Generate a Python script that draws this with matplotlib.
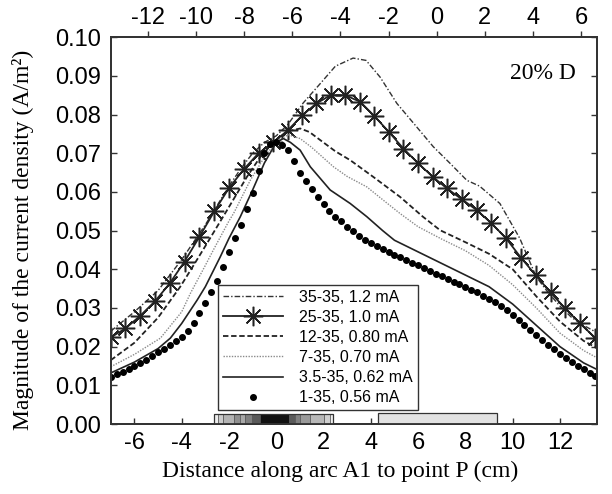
import matplotlib
matplotlib.use("Agg")
import matplotlib.pyplot as plt
from matplotlib.patches import Rectangle

plt.rcParams["axes.unicode_minus"] = False

# ---- data ----
# 35-35, 1.2 mA (dash-dot)
x_35 = [-7.0, -6.0, -5.0, -4.0, -3.0, -2.0, -1.5, -1.0, -0.5, 0.0, 0.5, 1.14, 1.86, 2.5,
        3.25, 3.8, 4.39, 5.1, 5.94, 6.64, 7.35, 8.06, 8.6, 9.46, 10.3, 11.0, 11.5, 12.0,
        12.5, 13.0, 13.6]
y_35 = [0.0240, 0.0290, 0.0345, 0.0425, 0.0515, 0.0615, 0.0660, 0.0700, 0.0728, 0.0745,
        0.0775, 0.0830, 0.0880, 0.0925, 0.0946, 0.0940, 0.0897, 0.0829, 0.0768, 0.0717,
        0.0674, 0.0630, 0.0615, 0.0570, 0.0480, 0.0380, 0.0340, 0.0305, 0.0275, 0.0255,
        0.0235]

# 25-35, 1.0 mA (line with asterisks)
x_25 = [-7.0, -6.38, -5.75, -5.12, -4.5, -3.88, -3.25, -2.62, -2.0, -1.38, -0.75, -0.12,
        0.5, 1.1, 1.7, 2.3, 2.92, 3.55, 4.15, 4.75, 5.38, 6.0, 6.62, 7.22, 7.85, 8.48,
        9.1, 9.72, 10.35, 10.97, 11.6, 12.2, 12.85, 13.5]
y_25 = [0.0224, 0.0247, 0.0280, 0.0318, 0.0364, 0.0420, 0.0484, 0.0550, 0.0610, 0.0658,
        0.0700, 0.0728, 0.0760, 0.0798, 0.0829, 0.0850, 0.0850, 0.0833, 0.0796, 0.0756,
        0.0712, 0.0674, 0.0639, 0.0609, 0.0581, 0.0553, 0.0519, 0.0480, 0.0430, 0.0385,
        0.0340, 0.0300, 0.0260, 0.0222]

# 12-35, 0.80 mA (dashed)
x_12 = [-7.0, -6.0, -5.0, -4.06, -3.5, -2.93, -2.08, -1.24, -0.68, 0.0, 0.5, 1.01, 1.4,
        1.86, 2.5, 3.13, 4.1, 5.24, 6.2, 6.93, 8.0, 9.0, 10.0, 11.0, 12.0, 13.0, 13.6]
y_12 = [0.0165, 0.0210, 0.0275, 0.0355, 0.0410, 0.0467, 0.0553, 0.0639, 0.0690, 0.0735,
        0.0757, 0.0764, 0.0755, 0.0734, 0.0705, 0.0682, 0.0639, 0.0587, 0.0536, 0.0501,
        0.0470, 0.0440, 0.0400, 0.0330, 0.0265, 0.0215, 0.0195]

# 7-35, 0.70 mA (light dotted)
x_7 = [-7.0, -6.0, -4.9, -4.0, -3.63, -3.0, -2.66, -2.0, -1.8, -1.1, -0.5, 0.0, 0.5, 1.01,
       1.5, 2.42, 3.0, 3.83, 4.5, 5.24, 6.0, 7.0, 8.0, 9.0, 10.0, 11.0, 12.0, 13.0, 13.6]
y_7 = [0.0148, 0.0180, 0.0222, 0.0290, 0.0338, 0.0410, 0.0450, 0.0525, 0.0545, 0.0630,
       0.0690, 0.0730, 0.0748, 0.0738, 0.0715, 0.0665, 0.0640, 0.0613, 0.0580, 0.0544,
       0.0510, 0.0478, 0.0448, 0.0410, 0.0360, 0.0300, 0.0235, 0.0190, 0.0170]

# 3.5-35, 0.62 mA (solid)
x_35b = [-7.0, -6.0, -5.0, -4.48, -4.0, -3.35, -3.0, -2.37, -2.0, -1.52, -1.0, -0.5, 0.0,
         0.3, 0.6, 1.01, 1.44, 2.28, 3.13, 3.83, 4.5, 5.0, 6.0, 7.0, 8.0, 9.0, 10.0, 11.0,
         12.0, 13.0, 13.6]
y_35b = [0.0132, 0.0160, 0.0195, 0.0222, 0.0260, 0.0320, 0.0355, 0.0432, 0.0480, 0.0536,
         0.0605, 0.0675, 0.0728, 0.0738, 0.0728, 0.0708, 0.0665, 0.0605, 0.0570, 0.0536,
         0.0500, 0.0475, 0.0445, 0.0415, 0.0385, 0.0355, 0.0310, 0.0255, 0.0200, 0.0158,
         0.0140]

# 1-35, 0.56 mA (dots)
x_1 = [-7.0, -6.75, -6.5, -6.25, -6.0, -5.75, -5.5, -5.25, -5.0, -4.75, -4.5, -4.25, -4.0,
       -3.75, -3.5, -3.25, -3.0, -2.75, -2.5, -2.25, -2.0, -1.75, -1.5, -1.25, -1.0, -0.75,
       -0.5, -0.25, 0.0, 0.25, 0.5, 0.75, 1.0, 1.25, 1.5, 1.75, 2.0, 2.25, 2.5, 2.75, 3.0,
       3.25, 3.5, 3.75, 4.0, 4.25, 4.5, 4.75, 5.0, 5.25, 5.5, 5.75, 6.0, 6.25, 6.5, 6.75,
       7.0, 7.25, 7.5, 7.75, 8.0, 8.25, 8.5, 8.75, 9.0, 9.25, 9.5, 9.75, 10.0, 10.25, 10.5,
       10.75, 11.0, 11.25, 11.5, 11.75, 12.0, 12.25, 12.5, 12.75, 13.0, 13.25, 13.5]
y_1 = [0.0122, 0.0128, 0.0135, 0.0142, 0.0150, 0.0158, 0.0166, 0.0175, 0.0185, 0.0195,
       0.0205, 0.0215, 0.0226, 0.0240, 0.0262, 0.0288, 0.0313, 0.0340, 0.0370, 0.0405,
       0.0445, 0.0480, 0.0515, 0.0555, 0.0598, 0.0655, 0.0700, 0.0724, 0.0730, 0.0722,
       0.0708, 0.0680, 0.0650, 0.0628, 0.0608, 0.0588, 0.0568, 0.0550, 0.0536, 0.0524,
       0.0510, 0.0498, 0.0486, 0.0476, 0.0467, 0.0459, 0.0452, 0.0445, 0.0438, 0.0431,
       0.0424, 0.0417, 0.0410, 0.0403, 0.0396, 0.0389, 0.0382, 0.0375, 0.0368, 0.0361,
       0.0354, 0.0347, 0.0340, 0.0332, 0.0324, 0.0315, 0.0305, 0.0294, 0.0282, 0.0270,
       0.0257, 0.0244, 0.0231, 0.0218, 0.0205, 0.0193, 0.0182, 0.0171, 0.0161, 0.0151,
       0.0142, 0.0133, 0.0124]

labels = ["35-35, 1.2 mA", "25-35, 1.0 mA", "12-35, 0.80 mA",
          "7-35, 0.70 mA", "3.5-35, 0.62 mA", "1-35, 0.56 mA"]

# electrode strip along the bottom axis
strip_edges = [-2.62, -2.48, -2.25, -1.80, -1.55, -1.31, -1.03, -0.68, 0.52, 0.80, 1.01,
               1.44, 2.00, 2.28, 2.42]
strip_grays = ["#eeeeee", "#cccccc", "#b4b4b4", "#909090", "#a8a8a8", "#808080",
               "#5a5a5a", "#111111", "#5a5a5a", "#808080", "#9a9a9a", "#b8b8b8",
               "#d0d0d0", "#eeeeee"]
pad_span = [4.32, 9.35]

bottom_ticks = [-6, -4, -2, 0, 2, 4, 6, 8, 10, 12]
top_ticks = [-12, -10, -8, -6, -4, -2, 0, 2, 4, 6]
y_ticks = [0.00, 0.01, 0.02, 0.03, 0.04, 0.05, 0.06, 0.07, 0.08, 0.09, 0.10]

sans = "Liberation Sans"
serif = "Liberation Serif"

fig = plt.figure(figsize=(6.12, 4.94), dpi=100)
ax = fig.add_axes([0.181, 0.1417, 0.795, 0.783])

ax.plot(x_35, y_35, color="#333333", lw=1.0, dashes=(4, 1.5, 1, 1.5), label=labels[0])
ax.plot(x_25, y_25, color="#222222", lw=1.3, marker=(8, 2, 0), markersize=14,
        markeredgewidth=1.1, label=labels[1])
ax.plot(x_12, y_12, color="#222222", lw=1.3, dashes=(3, 1.5), label=labels[2])
ax.plot(x_7, y_7, color="#8a8a8a", lw=1.0, dashes=(1, 1), label=labels[3])
ax.plot(x_35b, y_35b, color="#222222", lw=1.2, label=labels[4])
ax.plot(x_1, y_1, color="black", lw=0, marker="o", markersize=4, label=labels[5])

strip_h = 0.0027
for i in range(len(strip_grays)):
    ax.add_patch(Rectangle((strip_edges[i], 0), strip_edges[i + 1] - strip_edges[i], strip_h,
                           facecolor=strip_grays[i], edgecolor="#555555", lw=0.5, zorder=3))
ax.add_patch(Rectangle((strip_edges[0], 0), strip_edges[-1] - strip_edges[0], strip_h,
                       facecolor="none", edgecolor="#333333", lw=0.9, zorder=3))
ax.add_patch(Rectangle((pad_span[0], 0), pad_span[1] - pad_span[0], 0.0028,
                       facecolor="#e2e2e2", edgecolor="#333333", lw=0.9, zorder=3))

ax.set_xlim(-7.0, 13.58)
ax.set_ylim(0, 0.10)
ax.set_xticks(bottom_ticks)
ax.set_yticks(y_ticks)
ax.set_yticklabels(["%.2f" % v for v in y_ticks])
ax.tick_params(axis="both", direction="in", length=4, width=1, color="#333333",
               labelsize=17, right=True, top=False)
ax.tick_params(axis="x", pad=6)
ax.tick_params(axis="y", pad=7)
for lab in ax.get_xticklabels() + ax.get_yticklabels():
    lab.set_family(sans)
for sp in ax.spines.values():
    sp.set_color("#333333")
    sp.set_linewidth(1.3)

ax2 = ax.twiny()
ax2.set_xlim(-13.55, 6.68)
ax2.set_xticks(top_ticks)
ax2.tick_params(axis="x", direction="out", length=4, width=1, color="#333333",
                labelsize=17, pad=2)
for lab in ax2.get_xticklabels():
    lab.set_family(sans)
for sp in ax2.spines.values():
    sp.set_color("#333333")
    sp.set_linewidth(1.3)

ax.set_xlabel("Distance along arc A1 to point P (cm)", family=serif, fontsize=17)
ax.xaxis.set_label_coords(0.471, -0.095)
ax.set_ylabel("Magnitude of the current density (A/m²)", family=serif, fontsize=17)
ax.yaxis.set_label_coords(-0.157, 0.475)

ax.text(11.28, 0.0907, "20% D", family=serif, fontsize=17, ha="center", va="center")

leg = ax.legend(loc="lower left", bbox_to_anchor=(0.2204, 0.036), borderaxespad=0,
                prop={"family": sans, "size": 11.5}, handlelength=3.8, numpoints=1,
                labelspacing=0.32, fancybox=False, framealpha=1, borderpad=0.3,
                handletextpad=1.0)
leg.get_frame().set_edgecolor("#333333")
leg.get_frame().set_linewidth(1.0)

fig.savefig("out.png", dpi=100)
